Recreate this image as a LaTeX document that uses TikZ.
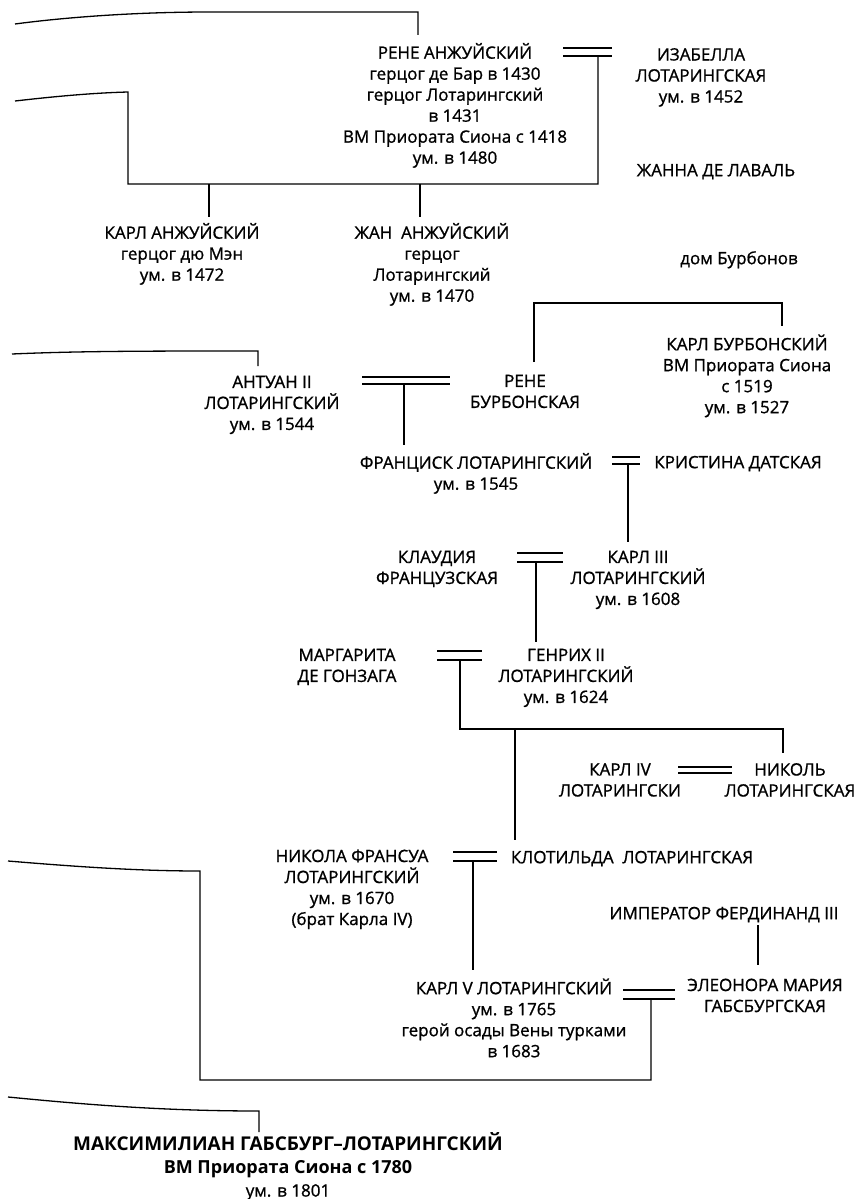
\documentclass[tikz,border=0pt]{standalone}
\usepackage{fontspec}
\setmainfont{Open Sans}[FakeBold=1,BoldFeatures={FakeBold=0}]
\newcommand\famfont{\fontsize{17}{21}\selectfont}
\newcommand\wed[5]{%
  \coordinate (#1-tl) at (#2,#4); \coordinate (#1-tr) at (#3,#4);
  \coordinate (#1-bl) at (#2,#5); \coordinate (#1-br) at (#3,#5);
  \draw[link] (#1-tl) -- (#1-tr) (#1-bl) -- (#1-br);}
\begin{document}
\begin{tikzpicture}[x=1pt,y=-1pt,
  person/.style={align=center,inner sep=0pt,font=\famfont,
    execute at begin node=\strut,execute at end node=\strut},
  link/.style={line width=1.3pt}]
\useasboundingbox[fill=white] (0,0) rectangle (863,1199);

% ---- people ----
\node[person] (rene) at (455,106.5) {РЕНЕ АНЖУЙСКИЙ\\герцог де Бар в 1430\\герцог Лотарингский\\в 1431\\ВМ Приората Сиона с 1418\\ум. в 1480};
\node[person] (isabella) at (701,78.5) {ИЗАБЕЛЛА\\ЛОТАРИНГСКАЯ\\ум. в 1452};
\node[person] (jeanne) at (716,172) {ЖАННА ДЕ ЛАВАЛЬ};
\node[person] (charlesA) at (182,255) {КАРЛ АНЖУЙСКИЙ\\герцог дю Мэн\\ум. в 1472};
\node[person] (jean) at (432,265.5) {ЖАН~~АНЖУЙСКИЙ\\герцог\\Лотарингский\\ум. в 1470};
\node[person] (bourbons) at (739,260) {дом Бурбонов};
\node[person] (charlesB) at (747,377) {КАРЛ БУРБОНСКИЙ\\ВМ Приората Сиона\\с 1519\\ум. в 1527};
\node[person] (reneB) at (525,394.5) {РЕНЕ\\БУРБОНСКАЯ};
\node[person] (antoine) at (272,406) {АНТУАН II\\ЛОТАРИНГСКИЙ\\ум. в 1544};
\node[person] (francis) at (476,474.5) {ФРАНЦИСК ЛОТАРИНГСКИЙ\\ум. в 1545};
\node[person] (christina) at (738,464) {КРИСТИНА ДАТСКАЯ};
\node[person] (claude) at (437,570.5) {КЛАУДИЯ\\ФРАНЦУЗСКАЯ};
\node[person] (charles3) at (638,581) {КАРЛ III\\ЛОТАРИНГСКИЙ\\ум. в 1608};
\node[person] (marguerite) at (347,668.5) {МАРГАРИТА\\ДЕ ГОНЗАГА};
\node[person] (henri) at (566,679) {ГЕНРИХ II\\ЛОТАРИНГСКИЙ\\ум. в 1624};
\node[person] (charles4) at (620,783) {КАРЛ IV\\ЛОТАРИНГСКИ};
\node[person] (nicole) at (790,783) {НИКОЛЬ\\ЛОТАРИНГСКАЯ};
\node[person] (nf) at (352,890.5) {НИКОЛА ФРАНСУА\\ЛОТАРИНГСКИЙ\\ум. в 1670\\(брат Карла IV)};
\node[person] (clotilde) at (632,859) {КЛОТИЛЬДА~~ЛОТАРИНГСКАЯ};
\node[person] (emperor) at (724,915) {ИМПЕРАТОР ФЕРДИНАНД III};
\node[person] (charles5) at (514,1021) {КАРЛ V ЛОТАРИНГСКИЙ\\ум. в 1765\\герой осады Вены турками\\в 1683};
\node[person] (eleonora) at (765,998.5) {ЭЛЕОНОРА МАРИЯ\\ГАБСБУРГСКАЯ};
\node[person,font=\fontsize{17}{23}\selectfont] (max) at (288,1168)
  {{\fontsize{19}{23}\selectfont\bfseries МАКСИМИЛИАН ГАБСБУРГ–ЛОТАРИНГСКИЙ}\\{\fontsize{18}{23}\selectfont\bfseries ВМ Приората Сиона с 1780}\\ум. в 1801};

% ---- marriages (double bars) ----
\wed{w1}{563}{612}{48}{56}
\wed{w2}{362}{450}{377}{384}
\wed{w3}{612}{640}{457}{464}
\wed{w4}{517}{563}{553}{562}
\wed{w5}{437}{482}{651}{660}
\wed{w6}{678}{732}{767}{773}
\wed{w7}{453}{497}{852}{861}
\wed{w8}{623}{675}{990}{999}

% ---- junction points ----
\coordinate (a1) at (15,24);   \coordinate (a2) at (418,12);  \coordinate (a3) at (418,35);
\coordinate (b1) at (15,101);  \coordinate (b2) at (128,92);  \coordinate (b3) at (128,184);
\coordinate (b4) at (598,184); \coordinate (b5) at (598,56);
\coordinate (k1t) at (209,184); \coordinate (k1b) at (209,217);
\coordinate (k2t) at (420,184); \coordinate (k2b) at (420,217);
\coordinate (c1) at (12,354);  \coordinate (c2) at (258,351); \coordinate (c3) at (258,366);
\coordinate (r1) at (534,362); \coordinate (r2) at (534,303); \coordinate (r3) at (782,303); \coordinate (r4) at (782,326);
\coordinate (d2t) at (404,384); \coordinate (d2b) at (404,445);
\coordinate (d3t) at (628,464); \coordinate (d3b) at (628,542);
\coordinate (d4t) at (536,562); \coordinate (d4b) at (536,642);
\coordinate (d5t) at (460,660); \coordinate (d5m) at (460,729); \coordinate (d5r) at (783,729); \coordinate (d5b) at (783,753);
\coordinate (e1t) at (515,729); \coordinate (e1b) at (515,840);
\coordinate (d7t) at (473,861); \coordinate (d7b) at (473,970);
\coordinate (f1) at (758,925);  \coordinate (f2) at (758,965);
\coordinate (g1) at (8,861);   \coordinate (g2) at (200,871); \coordinate (g3) at (200,1080);
\coordinate (g4) at (651,1080); \coordinate (g5) at (651,999);
\coordinate (h1) at (8,1097);  \coordinate (h2) at (259,1111); \coordinate (h3) at (259,1132);

% ---- lines of descent ----
\draw[link] (a1) .. controls (60,18) and (130,12) .. (210,12) -- (a2) -- (a3);
\draw[link] (b1) .. controls (50,97) and (90,93) .. (b2) -- (b3) -- (b4) -- (b5);
\draw[link] (k1t) -- (k1b) (k2t) -- (k2b);
\draw[link] (c1) .. controls (80,351) and (150,351) .. (c2) -- (c3);
\draw[link] (r1) -- (r2) -- (r3) -- (r4);
\draw[link] (d2t) -- (d2b);
\draw[link] (d3t) -- (d3b);
\draw[link] (d4t) -- (d4b);
\draw[link] (d5t) -- (d5m) -- (d5r) -- (d5b);
\draw[link] (e1t) -- (e1b);
\draw[link] (d7t) -- (d7b);
\draw[link] (f1) -- (f2);
\draw[link] (g1) .. controls (80,867) and (140,871) .. (g2) -- (g3) -- (g4) -- (g5);
\draw[link] (h1) .. controls (80,1104) and (160,1111) .. (h2) -- (h3);
\end{tikzpicture}
\end{document}
